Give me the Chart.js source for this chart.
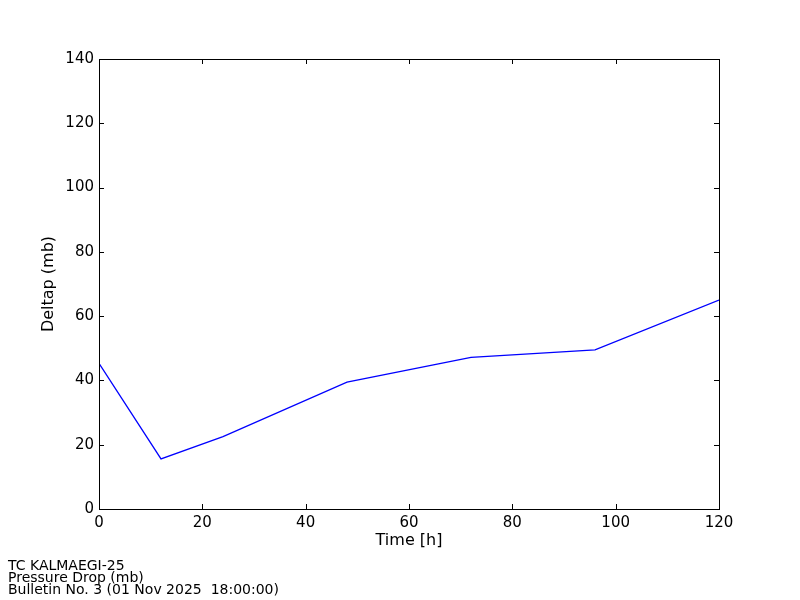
<!DOCTYPE html>
<html>
<head>
<meta charset="utf-8">
<script src="https://cdn.jsdelivr.net/npm/chart.js@4/dist/chart.umd.min.js"></script>
<style>
  html, body { margin: 0; padding: 0; background: #ffffff; }
  #wrap { position: relative; width: 800px; height: 600px; }
  canvas { display: block; }
  #foot { position: absolute; left: 8px; top: 559px; font-family: "DejaVu Sans", sans-serif; font-size: 14px; line-height: 12px; color: #000; white-space: pre; }
</style>
</head>
<body>
<div id="wrap">
  <canvas id="c" width="800" height="600"></canvas>
  <div id="foot">TC KALMAEGI-25
Pressure Drop (mb)
Bulletin No. 3 (01 Nov 2025  18:00:00)</div>
</div>
<script>
const hours = [0, 12, 24, 48, 72, 96, 120];
const deltap = [45.3, 15.6, 22.5, 39.5, 47.2, 49.5, 65.0];
const xTicks = [0, 20, 40, 60, 80, 100, 120];
const yTicks = [0, 20, 40, 60, 80, 100, 120, 140];
const xLabel = 'Time [h]';
const yLabel = 'Deltap (mb)';

const framePlugin = {
  id: 'frame',
  afterDraw(chart) {
    const {ctx, chartArea: a, scales} = chart;
    const L = 5;
    ctx.save();
    ctx.strokeStyle = '#000';
    ctx.lineWidth = 1;
    ctx.beginPath();
    xTicks.forEach(v => {
      const x = Math.round(scales.x.getPixelForValue(v)) + 0.5;
      ctx.moveTo(x, a.bottom); ctx.lineTo(x, a.bottom - L);
      ctx.moveTo(x, a.top); ctx.lineTo(x, a.top + L);
    });
    yTicks.forEach(v => {
      const y = Math.round(scales.y.getPixelForValue(v)) + 0.5;
      ctx.moveTo(a.left, y); ctx.lineTo(a.left + L, y);
      ctx.moveTo(a.right, y); ctx.lineTo(a.right - L, y);
    });
    ctx.stroke();
    ctx.strokeRect(Math.round(a.left) + 0.5, Math.round(a.top) + 0.5, Math.round(a.right - a.left), Math.round(a.bottom - a.top));
    ctx.restore();
  }
};

const font = {family: '"DejaVu Sans", sans-serif', size: 15};

new Chart(document.getElementById('c'), {
  type: 'line',
  data: {
    datasets: [{
      data: hours.map((h, i) => ({x: h, y: deltap[i]})),
      borderColor: '#0000ff',
      borderWidth: 1.3,
      pointRadius: 0,
      fill: false,
      tension: 0
    }]
  },
  options: {
    responsive: false,
    animation: false,
    layout: {padding: {top: 59, right: 81, left: 0, bottom: 0}},
    plugins: {legend: {display: false}, tooltip: {enabled: false}},
    scales: {
      x: {
        type: 'linear', min: 0, max: 120,
        afterFit(s) { s.height = 91; },
        afterBuildTicks(s) { s.ticks = xTicks.map(v => ({value: v})); },
        grid: {display: false, drawTicks: false},
        border: {display: false},
        ticks: {color: '#000', font, padding: 5, maxRotation: 0},
        title: {display: true, text: xLabel, color: '#000', font: {family: font.family, size: 16}, padding: {top: 0, bottom: 50}}
      },
      y: {
        type: 'linear', min: 0, max: 140,
        afterFit(s) { s.width = 99; },
        afterBuildTicks(s) { s.ticks = yTicks.map(v => ({value: v})); },
        grid: {display: false, drawTicks: false},
        border: {display: false},
        ticks: {color: '#000', font, padding: 5},
        title: {display: true, text: yLabel, color: '#000', font: {family: font.family, size: 16}, padding: {top: 39, bottom: 0}}
      }
    }
  },
  plugins: [framePlugin]
});
</script>
</body>
</html>
